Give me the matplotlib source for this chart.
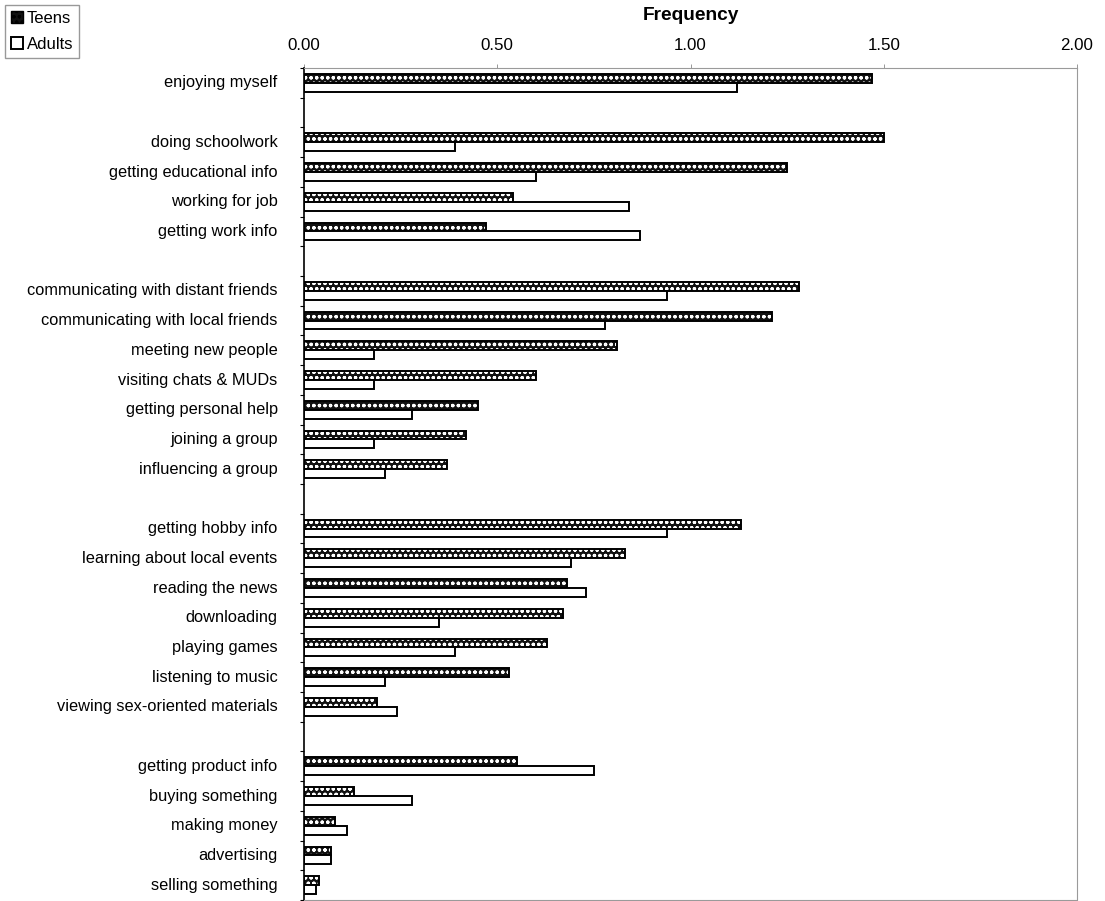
import matplotlib
matplotlib.use("Agg")
import matplotlib.pyplot as plt
from matplotlib.patches import Patch
import numpy as np

plt.rcParams['font.family'] = ['Liberation Sans', 'DejaVu Sans']
plt.rcParams['hatch.linewidth'] = 0.9

# activities, top to bottom; None marks an empty gap row between groups
atividades = [
    "enjoying myself", None,
    "doing schoolwork", "getting educational info", "working for job", "getting work info", None,
    "communicating with distant friends", "communicating with local friends", "meeting new people",
    "visiting chats & MUDs", "getting personal help", "joining a group", "influencing a group", None,
    "getting hobby info", "learning about local events", "reading the news", "downloading",
    "playing games", "listening to music", "viewing sex-oriented materials", None,
    "getting product info", "buying something", "making money", "advertising", "selling something",
]
teens = [1.47, None,
         1.50, 1.25, 0.54, 0.47, None,
         1.28, 1.21, 0.81, 0.60, 0.45, 0.42, 0.37, None,
         1.13, 0.83, 0.68, 0.67, 0.63, 0.53, 0.19, None,
         0.55, 0.13, 0.08, 0.07, 0.04]
adults = [1.12, None,
          0.39, 0.60, 0.84, 0.87, None,
          0.94, 0.78, 0.18, 0.18, 0.28, 0.18, 0.21, None,
          0.94, 0.69, 0.73, 0.35, 0.39, 0.21, 0.24, None,
          0.75, 0.28, 0.11, 0.07, 0.03]
ticks_x = [0.0, 0.5, 1.0, 1.5, 2.0]

pos = np.array([i for i, a in enumerate(atividades) if a is not None])
nomes = [a for a in atividades if a is not None]
v_teens = np.array([t for t in teens if t is not None])
v_adults = np.array([a for a in adults if a is not None])

fig = plt.figure(figsize=(11.05, 9.01), dpi=100)
ax = fig.add_axes([304 / 1105, 1 / 901, (1077 - 304) / 1105, (900 - 68) / 901])

h = 0.3
# teens: black fill with white specks, then black outline on top
ax.barh(pos - h / 2, v_teens, height=h, color='#111111', edgecolor='white',
        hatch='ooo', linewidth=0)
ax.barh(pos - h / 2, v_teens, height=h, fill=False, edgecolor='black', linewidth=1.4)
ax.barh(pos + h / 2, v_adults, height=h, color='white', edgecolor='black', linewidth=1.4)

ax.set_xlim(0, 2.0)
ax.set_ylim(len(atividades) - 0.5, -0.5)
ax.xaxis.tick_top()
ax.xaxis.set_label_position('top')
ax.set_xticks(ticks_x)
ax.set_xticklabels([f"{t:.2f}" for t in ticks_x], fontsize=12.2)
ax.tick_params(axis='x', length=3, width=0.6, color='#888888', pad=8)
ax.set_xlabel('Frequency', fontsize=13.8, fontweight='bold', labelpad=13)

# small ticks at the row boundaries on the left spine
ax.set_yticks(np.arange(-0.5, len(atividades), 1.0))
ax.set_yticklabels([])
ax.tick_params(axis='y', length=3, width=0.8, direction='out')
for p, n in zip(pos, nomes):
    ax.text(-0.034, p, n, ha='right', va='center', fontsize=11.8,
            transform=ax.get_yaxis_transform())

ax.spines['left'].set_color('black')
ax.spines['left'].set_linewidth(1.2)
for lado in ['top', 'right', 'bottom']:
    ax.spines[lado].set_color('#9a9a9a')
    ax.spines[lado].set_linewidth(0.8)
    ax.spines[lado].set_linestyle((0, (1, 1)))
ax.spines['top'].set_linestyle('-')

leg_handles = [Patch(facecolor='#111111', edgecolor='black', hatch='ooo', label='Teens'),
               Patch(facecolor='white', edgecolor='black', linewidth=1.4, label='Adults')]
fig.legend(handles=leg_handles, loc='upper left', bbox_to_anchor=(5 / 1105, 1 - 5 / 901),
           fontsize=12, handlelength=0.75, handleheight=0.75, handletextpad=0.2,
           borderpad=0.35, borderaxespad=0, labelspacing=0.68, fancybox=False,
           edgecolor='#999999', framealpha=1)

fig.savefig('out.png', dpi=100)
